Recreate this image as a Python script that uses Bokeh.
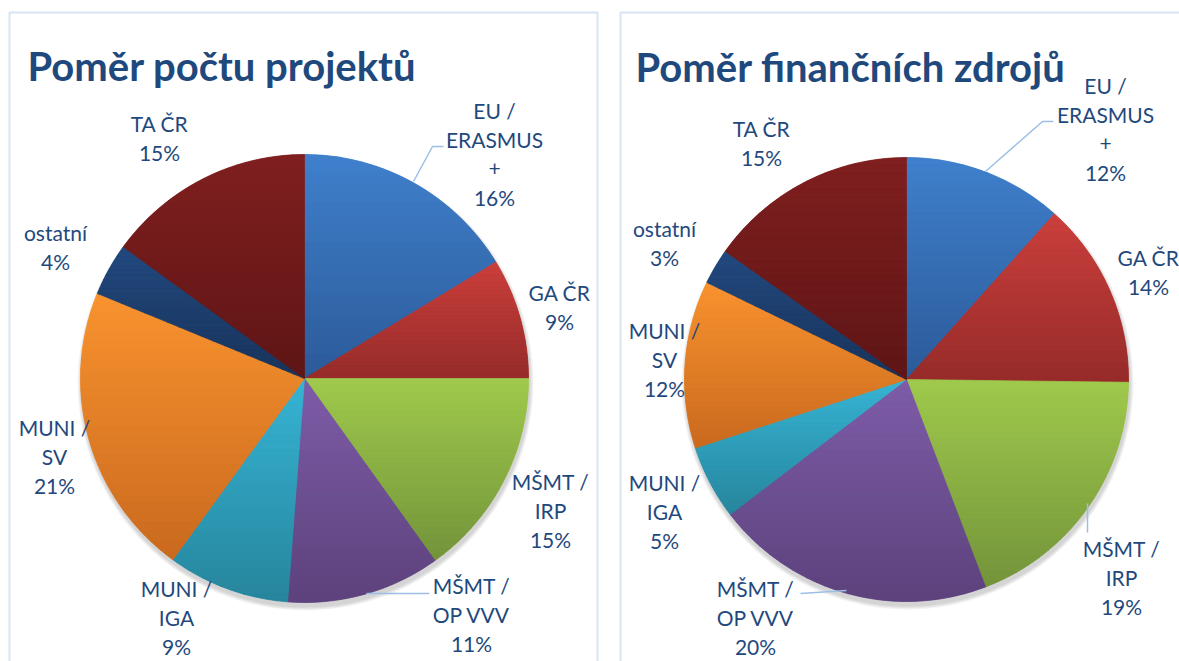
import math
import textwrap
from bokeh.plotting import figure
from bokeh.models import Range1d
from bokeh.core.properties import value
from bokeh.embed import file_html
from bokeh.resources import INLINE

# ---------------- data ----------------
categories = ["EU / ERASMUS +", "GA ČR", "MŠMT / IRP", "MŠMT / OP VVV",
              "MUNI / IGA", "MUNI / SV", "ostatní", "TA ČR"]
projects_share = [16.3, 8.7, 15.1, 11.1, 8.8, 21.2, 3.8, 15.0]
finance_share = [11.6, 13.6, 19.0, 20.4, 5.4, 12.2, 2.6, 15.2]
titles = ["Poměr počtu projektů", "Poměr finančních zdrojů"]

# gradient colours per category (top, bottom)
top_colors = ["#3f80cd", "#cb3f3c", "#9fca4c", "#7e5ca8", "#37b4d4", "#f9932f", "#22497f", "#801f1f"]
bot_colors = ["#2c5a98", "#952b29", "#73933a", "#5c427c", "#26859c", "#c9691e", "#18335a", "#5e1515"]

# ---------------- layout (pixels, y from top) ----------------
W, H = 1179, 661
TEXT = "#1F497D"
LEAD = "#9dbfe6"
FONT = "Lato"

pies = [
    dict(cx=304, cy=378, r=224, title_x=27, title_y=65,
         labels=[(494, 110), (559, 292), (550, 481), (471, 585),
                 (176, 588), (54, 427), (55, 232), (159, 123)],
         leaders=[[(413, 181), (432, 146), (443, 146)],
                  [(366, 593), (429, 593)]]),
    dict(cx=906, cy=379, r=222, title_x=635, title_y=66,
         labels=[(1105, 85), (1148, 257), (1121, 548), (755, 588),
                 (664, 482), (664, 330), (664, 228), (761, 128)],
         leaders=[[(985, 171), (1042, 121), (1053, 121)],
                  [(1087, 503), (1087, 532)],
                  [(800, 593), (846, 590)]]),
]
LINE_STEP = 29
panels = [(9, 597), (620, 1190)]


def Y(py):
    return H - py


def hex2rgb(h):
    h = h.lstrip("#")
    return tuple(int(h[i:i + 2], 16) for i in (0, 2, 4))


def mix(c0, c1, t):
    a, b = hex2rgb(c0), hex2rgb(c1)
    return "#%02x%02x%02x" % tuple(int(round(a[i] + (b[i] - a[i]) * t)) for i in range(3))


def clip_half(poly, yc, keep_above):
    out = []
    n = len(poly)
    for i in range(n):
        x1, y1 = poly[i]
        x2, y2 = poly[(i + 1) % n]
        in1 = (y1 >= yc) if keep_above else (y1 <= yc)
        in2 = (y2 >= yc) if keep_above else (y2 <= yc)
        if in1:
            out.append((x1, y1))
        if in1 != in2:
            t = (yc - y1) / (y2 - y1)
            out.append((x1 + t * (x2 - x1), yc))
    return out


p = figure(width=W, height=H, x_range=Range1d(0, W), y_range=Range1d(0, H),
           output_backend="svg", toolbar_location=None, min_border=0,
           x_axis_type=None, y_axis_type=None)
p.grid.visible = False
p.outline_line_color = None
p.background_fill_color = "white"

# panel frames
for (x0, x1) in panels:
    p.quad(left=[x0], right=[x1], top=[Y(12)], bottom=[Y(H + 20)],
           fill_color=None, line_color="#d6e4f4", line_width=2)

for idx, (pie, vals) in enumerate(zip(pies, [projects_share, finance_share])):
    cx, cy, r = pie["cx"], Y(pie["cy"]), pie["r"]
    total = sum(vals)

    # soft shadow
    for k in range(1, 5):
        p.circle(x=[cx + 1], y=[cy - 4], radius=r + k, fill_color="black",
                 fill_alpha=0.045, line_color=None)

    cum = 0.0
    starts, ends = [], []
    for v in vals:
        a0 = math.pi / 2 - 2 * math.pi * cum / total
        cum += v
        a1 = math.pi / 2 - 2 * math.pi * cum / total
        starts.append(a0)
        ends.append(a1)

    p.wedge(x=[cx] * len(vals), y=[cy] * len(vals), radius=r,
            start_angle=starts, end_angle=ends, direction="clock",
            fill_color=top_colors, line_color=None)

    # gradient bands per slice
    xs, ys, cols = [], [], []
    NB = 28
    for i, v in enumerate(vals):
        a0, a1 = starts[i], ends[i]
        steps = max(4, int(abs(a0 - a1) / (2 * math.pi) * 360))
        poly = [(cx, cy)] + [(cx + r * math.cos(a0 + (a1 - a0) * s / steps),
                              cy + r * math.sin(a0 + (a1 - a0) * s / steps))
                             for s in range(steps + 1)]
        ymax = max(pt[1] for pt in poly)
        ymin = min(pt[1] for pt in poly)
        h = (ymax - ymin) / NB
        for k in range(NB):
            yt = ymax - k * h
            yb = ymax - (k + 1) * h
            band = clip_half(clip_half(poly, yb, True), yt, False)
            if len(band) < 3:
                continue
            xs.append([pt[0] for pt in band])
            ys.append([pt[1] for pt in band])
            cols.append(mix(top_colors[i], bot_colors[i], (k + 0.5) / NB))
    p.patches(xs=xs, ys=ys, fill_color=cols, line_color=cols, line_width=0.7)

    # leader lines
    for ld in pie["leaders"]:
        p.line(x=[q[0] for q in ld], y=[Y(q[1]) for q in ld],
               line_color=LEAD, line_width=1.5)

    # labels
    tx, ty, tt = [], [], []
    for i, name in enumerate(categories):
        lines = textwrap.wrap(name, 8) + ["%d%%" % round(vals[i] / total * 100)]
        lx, ly = pie["labels"][i]
        for j, ln in enumerate(lines):
            tx.append(lx)
            ty.append(Y(ly + j * LINE_STEP))
            tt.append(ln)
    p.text(x=tx, y=ty, text=tt, text_font=value(FONT), text_font_size="21px",
           text_color=TEXT, text_align="center", text_baseline="middle")

    # title
    p.text(x=[pie["title_x"]], y=[Y(pie["title_y"])], text=[titles[idx]],
           text_font=value(FONT), text_font_size="40px", text_font_style="bold",
           text_color=TEXT, text_align="left", text_baseline="alphabetic")

open("out.html", "w").write(file_html(p, INLINE))
